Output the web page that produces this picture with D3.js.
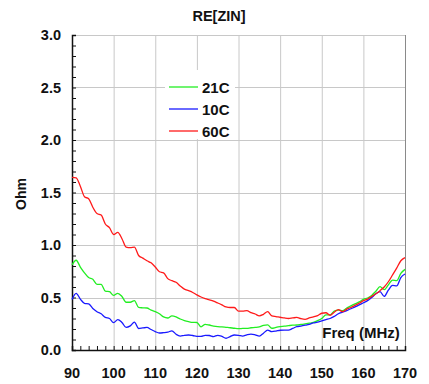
<!DOCTYPE html>
<html>
<head>
<meta charset="utf-8">
<script src="https://cdn.jsdelivr.net/npm/d3@7"></script>
<style>
  html, body { margin: 0; padding: 0; background: #fff; }
  svg text { font-family: "Liberation Sans", Arial, sans-serif; font-weight: bold; fill: #111; }
</style>
</head>
<body>
<svg id="chart" width="429" height="384"></svg>
<script>
// Frequency sweep (MHz), 1 MHz steps
const freq = d3.range(90, 171, 1);

// Real part of input impedance (Ohm) at three temperatures
const re21C = [0.81,0.855,0.79,0.735,0.69,0.673,0.625,0.625,0.56,0.555,
  0.52,0.54,0.51,0.455,0.455,0.47,0.405,0.402,0.40,0.38,
  0.365,0.345,0.315,0.305,0.325,0.315,0.295,0.28,0.27,0.263,
  0.262,0.22,0.245,0.238,0.228,0.222,0.22,0.216,0.212,0.207,
  0.203,0.205,0.206,0.212,0.215,0.22,0.235,0.24,0.207,0.215,
  0.222,0.228,0.232,0.236,0.238,0.243,0.248,0.255,0.262,0.28,
  0.30,0.335,0.335,0.37,0.38,0.375,0.40,0.42,0.44,0.458,
  0.482,0.495,0.52,0.56,0.603,0.575,0.62,0.665,0.66,0.73,0.768];

const re10C = [0.482,0.54,0.485,0.445,0.44,0.395,0.365,0.345,0.31,0.30,
  0.26,0.29,0.262,0.215,0.23,0.265,0.205,0.21,0.215,0.195,
  0.175,0.162,0.165,0.17,0.183,0.15,0.133,0.14,0.143,0.138,
  0.13,0.13,0.14,0.138,0.128,0.14,0.13,0.112,0.128,0.143,
  0.14,0.133,0.145,0.152,0.145,0.133,0.16,0.19,0.175,0.18,
  0.188,0.19,0.19,0.205,0.222,0.228,0.236,0.245,0.258,0.265,
  0.278,0.29,0.30,0.32,0.345,0.36,0.375,0.393,0.41,0.43,
  0.45,0.47,0.50,0.535,0.556,0.51,0.57,0.615,0.61,0.69,0.724];

const re60C = [1.645,1.64,1.56,1.46,1.44,1.36,1.30,1.285,1.20,1.165,
  1.10,1.12,1.06,0.98,0.975,0.98,0.90,0.875,0.85,0.83,
  0.79,0.745,0.735,0.68,0.66,0.645,0.61,0.58,0.565,0.548,
  0.525,0.505,0.49,0.478,0.465,0.448,0.43,0.41,0.405,0.405,
  0.37,0.37,0.375,0.355,0.343,0.325,0.34,0.365,0.325,0.318,
  0.312,0.305,0.30,0.305,0.31,0.298,0.292,0.305,0.315,0.328,
  0.35,0.355,0.33,0.36,0.385,0.365,0.39,0.405,0.425,0.445,
  0.47,0.485,0.51,0.535,0.565,0.60,0.65,0.714,0.78,0.85,0.88];

const xTicks = [90, 100, 110, 120, 130, 140, 150, 160, 170];
const yTicks = [0.0, 0.5, 1.0, 1.5, 2.0, 2.5, 3.0];
const seriesNames = ["21C", "10C", "60C"];
const seriesColors = ["#22ee22", "#1a1aff", "#ff1a1a"];
const seriesValues = [re21C, re10C, re60C];

const svg = d3.select("#chart");
const plotL = 72, plotR = 405, plotT = 35, plotB = 350;

const x = d3.scaleLinear().domain([90, 170]).range([plotL, plotR]);
const y = d3.scaleLinear().domain([0, 3]).range([plotB, plotT]);

// Grid
const grid = svg.append("g").attr("stroke", "#c8c8c8").attr("stroke-width", 1);
grid.selectAll("line.v").data(xTicks.slice(1)).join("line")
  .attr("x1", d => x(d) + 0.5).attr("x2", d => x(d) + 0.5)
  .attr("y1", plotT).attr("y2", plotB);
grid.selectAll("line.h").data(yTicks.slice(1)).join("line")
  .attr("y1", d => Math.round(y(d)) + 0.5).attr("y2", d => Math.round(y(d)) + 0.5)
  .attr("x1", plotL).attr("x2", plotR);
svg.append("line").attr("x1", plotR + 0.5).attr("x2", plotR + 0.5)
  .attr("y1", plotT).attr("y2", plotB).attr("stroke", "#8a8a8a");

// Axes with inward minor ticks
const xAxis = d3.axisBottom(x).tickValues(d3.range(90, 171, 2))
  .tickSize(-4).tickFormat("");
const gx = svg.append("g").attr("transform", `translate(0,${plotB})`).call(xAxis);
gx.select(".domain").attr("stroke", "#111").attr("stroke-width", 1.5);
gx.selectAll(".tick line").attr("stroke", "#111");

const yAxis = d3.axisLeft(y).tickValues(d3.range(0, 3.01, 0.1))
  .tickSize(-4).tickFormat("");
const gy = svg.append("g").attr("transform", `translate(${plotL},0)`).call(yAxis);
gy.select(".domain").attr("stroke", "#111").attr("stroke-width", 1.5);
gy.selectAll(".tick line").attr("stroke", "#111");

// Tick labels
svg.append("g").selectAll("text").data(xTicks).join("text")
  .attr("x", d => x(d)).attr("y", 378)
  .attr("text-anchor", "middle").attr("font-size", 14.5)
  .text(d => d);
svg.append("g").selectAll("text").data(yTicks).join("text")
  .attr("x", 61).attr("y", d => y(d) + 5)
  .attr("text-anchor", "end").attr("font-size", 14.5)
  .text(d => d3.format(".1f")(d));

// Curves
const line = d3.line()
  .x((d, i) => x(freq[i]))
  .y(d => y(d))
  .curve(d3.curveMonotoneX);
svg.append("g").selectAll("path").data(seriesValues).join("path")
  .attr("d", d => line(d))
  .attr("fill", "none")
  .attr("stroke", (d, i) => seriesColors[i])
  .attr("stroke-width", 1.3);

// Legend
const lg = svg.append("g");
lg.append("rect").attr("x", 165).attr("y", 70).attr("width", 70).attr("height", 69)
  .attr("fill", "#fff");
seriesNames.forEach((name, i) => {
  const ly = 87 + i * 22;
  lg.append("line").attr("x1", 169).attr("x2", 198).attr("y1", ly).attr("y2", ly)
    .attr("stroke", seriesColors[i]).attr("stroke-width", 1.3);
  lg.append("text").attr("x", 202).attr("y", ly + 5.5).attr("font-size", 15).text(name);
});

// Titles
svg.append("text").attr("x", 219).attr("y", 21).attr("text-anchor", "middle")
  .attr("font-size", 14.5).text("RE[ZIN]");
svg.append("text").attr("x", 361).attr("y", 338).attr("text-anchor", "middle")
  .attr("font-size", 15).text("Freq (MHz)");
svg.append("text").attr("transform", "translate(26,194) rotate(-90)")
  .attr("text-anchor", "middle").attr("font-size", 14).text("Ohm");
</script>
</body>
</html>
